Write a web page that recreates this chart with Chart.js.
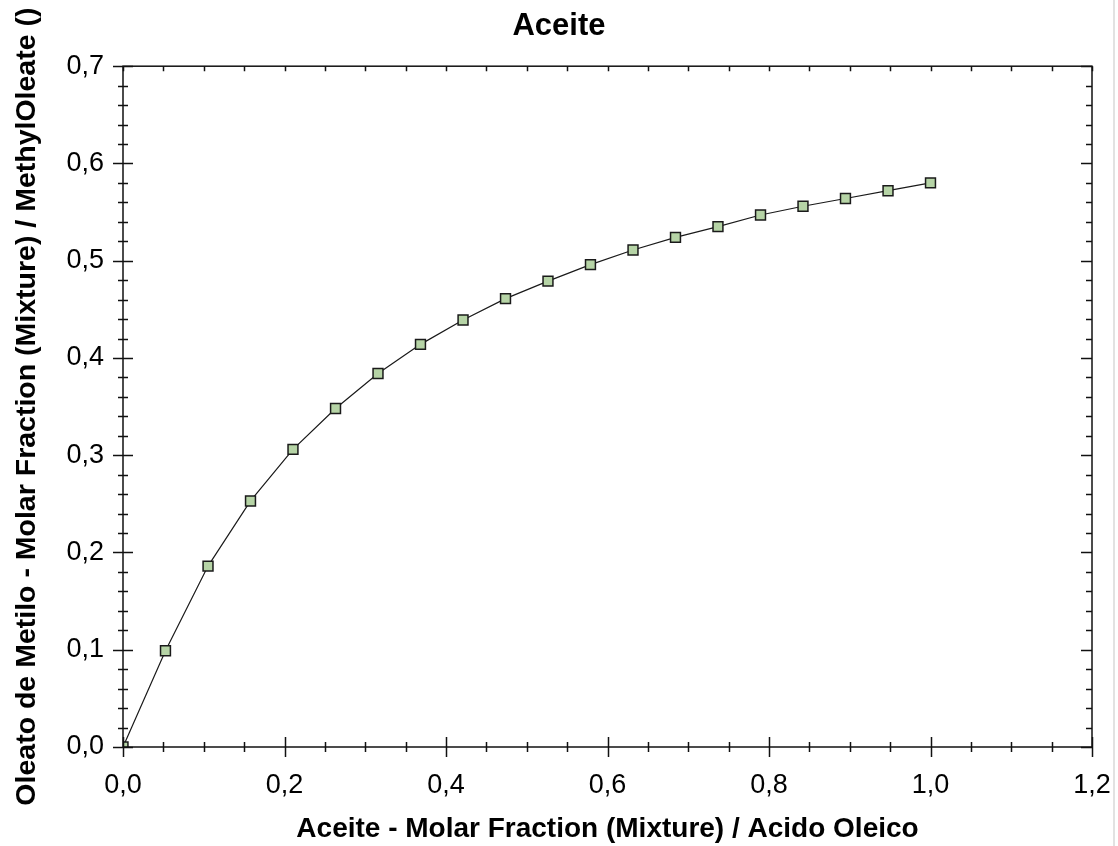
<!DOCTYPE html>
<html lang="es">
<head>
  <meta charset="UTF-8">
  <title>Aceite</title>
  <script src="https://cdn.jsdelivr.net/npm/chart.js"></script>
  <style>
    html, body { margin: 0; padding: 0; background: #fff; }
    #wrap { position: relative; width: 1118px; height: 846px; }
    #edge { position: absolute; left: 1113px; top: 0; width: 2px; height: 846px; background: #e2e2e2; }
  </style>
</head>
<body>
  <div id="wrap">
    <canvas id="grafico" width="1118" height="846"></canvas>
    <div id="edge"></div>
  </div>

  <script>
    // datos
    const fraccionAceite = [0, 0.0526, 0.1053, 0.1579, 0.2105, 0.2632, 0.3158, 0.3684, 0.4211, 0.4737,
                            0.5263, 0.5789, 0.6316, 0.6842, 0.7368, 0.7895, 0.8421, 0.8947, 0.9474, 1.0];
    const fraccionOleato = [0, 0.099, 0.186, 0.253, 0.306, 0.348, 0.384, 0.414, 0.439, 0.461,
                            0.479, 0.496, 0.511, 0.524, 0.535, 0.547, 0.556, 0.564, 0.572, 0.580];
    const xTicks = [0, 0.2, 0.4, 0.6, 0.8, 1.0, 1.2];
    const yTicks = [0, 0.1, 0.2, 0.3, 0.4, 0.5, 0.6, 0.7];

    const fuente = '"Liberation Sans", Arial, sans-serif';
    const coma = v => v.toFixed(1).replace('.', ',');

    // marcas en los cuatro lados, mayores y menores
    const marcas = {
      id: 'marcas',
      afterDatasetsDraw(chart) {
        const ctx = chart.ctx;
        const a = chart.chartArea;
        const sx = chart.scales.x, sy = chart.scales.y;
        ctx.save();
        ctx.strokeStyle = '#111';
        ctx.lineWidth = 1.5;
        ctx.strokeRect(a.left, a.top, a.right - a.left, a.bottom - a.top);
        ctx.beginPath();
        for (let i = 0; i <= 24; i++) {
          const v = i * 0.05;
          const px = Math.round(sx.getPixelForValue(v)) + 0.5;
          const big = i % 4 === 0 ? 10 : 5;
          ctx.moveTo(px, a.bottom - big); ctx.lineTo(px, a.bottom + big);
          ctx.moveTo(px, a.top); ctx.lineTo(px, a.top + 5);
        }
        for (let i = 0; i <= 35; i++) {
          const v = i * 0.02;
          const py = Math.round(sy.getPixelForValue(v)) + 0.5;
          const big = i % 5 === 0 ? 10 : 5;
          ctx.moveTo(a.left - big, py); ctx.lineTo(a.left + big, py);
          ctx.moveTo(a.right, py); ctx.lineTo(a.right - big - 1, py);
        }
        ctx.stroke();
        ctx.restore();
      }
    };

    const ctx = document.getElementById('grafico').getContext('2d');
    new Chart(ctx, {
      type: 'line',
      data: {
        datasets: [{
          label: 'Aceite',
          data: fraccionAceite.map((x, i) => ({ x: x, y: fraccionOleato[i] })),
          borderColor: '#1a1a1a',
          borderWidth: 1.2,
          tension: 0,
          pointStyle: 'rect',
          pointRadius: 7,
          pointBackgroundColor: '#b6d4a6',
          pointBorderColor: '#1a1a1a',
          pointBorderWidth: 1.5
        }]
      },
      options: {
        responsive: false,
        animation: false,
        layout: { padding: 0 },
        plugins: {
          legend: { display: false },
          tooltip: { enabled: false },
          title: {
            display: true,
            text: 'Aceite',
            color: '#000',
            font: { family: fuente, size: 31, weight: 'bold', lineHeight: 1.2 },
            padding: { top: 8, bottom: 21 }
          }
        },
        scales: {
          x: {
            type: 'linear',
            min: 0, max: 1.2,
            afterBuildTicks: s => { s.ticks = xTicks.map(v => ({ value: v })); },
            afterFit: s => { s.height = 99; s.paddingLeft = 0; s.paddingRight = 26; },
            grid: { display: true, drawOnChartArea: false, drawTicks: false },
            border: { display: false },
            ticks: {
              color: '#000', padding: 22, maxRotation: 0,
              font: { family: fuente, size: 27 },
              callback: v => coma(v)
            },
            title: {
              display: true,
              text: 'Aceite - Molar Fraction (Mixture) / Acido Oleico',
              color: '#000',
              font: { family: fuente, size: 28, weight: 'bold', lineHeight: 1.2 },
              padding: { top: 0, bottom: 0 }
            }
          },
          y: {
            type: 'linear',
            min: 0, max: 0.7,
            afterBuildTicks: s => { s.ticks = yTicks.map(v => ({ value: v })); },
            afterFit: s => { s.width = 123; },
            grid: { display: true, drawOnChartArea: false, drawTicks: false },
            border: { display: false },
            ticks: {
              color: '#000', padding: 19,
              font: { family: fuente, size: 27 },
              callback: v => coma(v)
            },
            title: {
              display: true,
              text: 'Oleato de Metilo - Molar Fraction (Mixture) / MethylOleate ()',
              color: '#000',
              font: { family: fuente, size: 28.5, weight: 'bold', lineHeight: 1.2 },
              padding: { top: 10, bottom: 0 }
            }
          }
        }
      },
      plugins: [marcas]
    });
  </script>
</body>
</html>
